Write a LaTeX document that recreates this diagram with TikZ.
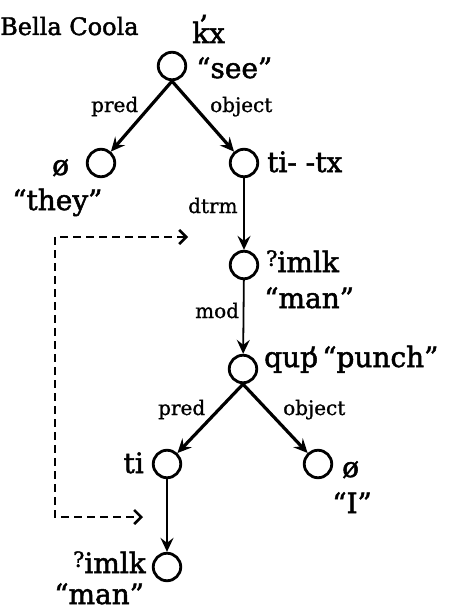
\documentclass[tikz,border=0pt]{standalone}
\usepackage{fontspec}
\setmainfont{DejaVu Serif}
\newfontfamily\wordfont{DejaVu Serif}[FakeBold=1.8]
\newfontfamily\relfont{DejaVu Serif}[FakeBold=1.0]
\usetikzlibrary{arrows.meta}
% glottalisation mark placed over the preceding letter
\newcommand{\glotmark}[1]{\makebox[0pt][r]{\raisebox{#1}{’}\hspace{0.04em}}}
% small raised glottal stop
\newcommand{\glotstop}{\raisebox{0.22em}{\fontsize{21}{21}\selectfont ?}}
\begin{document}
\begin{tikzpicture}[x=1pt,y=-1pt,
  vertex/.style={circle,draw,line width=2.8pt,minimum size=27.5pt,inner sep=0pt},
  word/.style={inner sep=0pt,font=\wordfont\fontsize{28}{30}\selectfont},
  title/.style={inner sep=0pt,font=\wordfont\fontsize{24}{26}\selectfont},
  rel/.style={inner sep=0pt,font=\relfont\fontsize{20}{22}\selectfont},
  tip/.style={-{Stealth[length=14pt,width=13pt,inset=5pt]}},
  branch/.style={tip,line width=3.2pt},
  stem/.style={tip,line width=2.4pt},
  corefer/.style={line width=2.6pt,dash pattern=on 8pt off 5pt,
    {Straight Barb[length=7pt,width=14pt]}-{Straight Barb[length=7pt,width=14pt]}}
]
\useasboundingbox (0,0) rectangle (451,610);

% nodes of the dependency tree
\node[vertex] (see)   at (172,66)  {};
\node[vertex] (they)  at (101,163) {};
\node[vertex] (titx)  at (244,163) {};
\node[vertex] (man)   at (244,265) {};
\node[vertex] (punch) at (243,369) {};
\node[vertex] (ti)    at (167,464) {};
\node[vertex] (me)    at (318,464) {};
\node[vertex] (man2)  at (167,567) {};

% words
\node[title,anchor=base west] (lang) at (0,35) {Bella Coola};
\node[word,anchor=base west] (seeform) at (192,43) {k\glotmark{0.28em}x};
\node[word,anchor=base west] (seegloss) at (196,78) {“see”};
\node[word,anchor=base west] (theyform) at (52,175) {ø};
\node[word,anchor=base west] (theygloss) at (12,210) {“they”};
\node[word,anchor=base west] (titxform) at (267,172) {ti- -tx};
\node[word,anchor=base west] (manform) at (266,272) {\glotstop imlk};
\node[word,anchor=base west] (mangloss) at (264,308) {“man”};
\node[word,anchor=base west] (punchform) at (264,367) {qup\glotmark{0pt}};
\node[word,anchor=base west] (punchgloss) at (322,367) {“punch”};
\node[word,anchor=base east] (tiform) at (144,473) {ti};
\node[word,anchor=base west] (meform) at (342,477) {ø};
\node[word,anchor=base west] (megloss) at (332,513) {“I”};
\node[word,anchor=base east] (man2form) at (146,573) {\glotstop imlk};
\node[word,anchor=base west,text depth=0pt] (man2gloss) at (54,604) {“man”};

% relation labels
\node[rel,anchor=base west] (r1) at (91,112)  {pred};
\node[rel,anchor=base west] (r2) at (210,112) {object};
\node[rel,anchor=base west] (r3) at (188,213) {dtrm};
\node[rel,anchor=base west] (r4) at (195,318) {mod};
\node[rel,anchor=base west] (r5) at (158,415) {pred};
\node[rel,anchor=base west] (r6) at (283,415) {object};

% dependencies
\draw[branch] (see.south) -- (they);
\draw[branch] (see.south) -- (titx);
\draw[stem] (titx) -- (man);
\draw[stem,line width=1.8pt] (man) -- (punch);
\draw[branch] (punch.south) -- (ti);
\draw[branch] (punch.south) -- (me);
\draw[stem] (ti) -- (man2);

% coreference link
\coordinate (ctop) at (188,237);
\coordinate (ctopcorner) at (55,237);
\coordinate (cbotcorner) at (55,517);
\coordinate (cbot) at (143,517);
\draw[corefer] (ctop) -- (ctopcorner) -- (cbotcorner) -- (cbot);
\end{tikzpicture}
\end{document}
